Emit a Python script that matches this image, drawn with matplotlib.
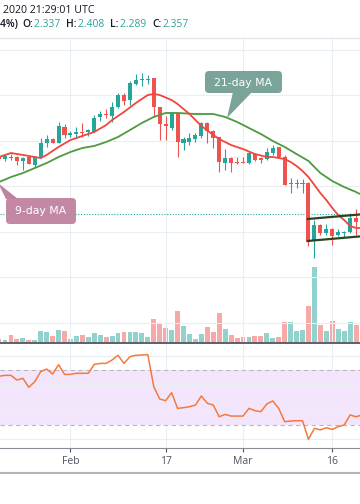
import matplotlib
matplotlib.use("Agg")
import matplotlib.pyplot as plt
from matplotlib.patches import FancyBboxPatch, Polygon

# --- data: daily candles, day 0 = 21 Jan 2020 ---
days = list(range(-1, 61))
opens = [2.855, 2.837, 2.855, 2.855, 2.820, 2.855, 2.785, 2.855, 2.978, 3.013,
         2.978, 3.119, 3.048, 3.057, 3.075, 3.075, 3.075, 3.207, 3.233, 3.215,
         3.295, 3.400, 3.356, 3.497, 3.532, 3.532, 3.549, 3.295, 3.145, 3.110,
         3.242, 2.978, 2.987, 3.013, 3.040, 3.154, 3.084, 3.031, 2.802, 2.846,
         2.811, 2.811, 2.802, 2.881, 2.846, 2.837, 2.890, 2.943, 2.855, 2.618,
         2.618, 2.618, 2.626, 2.117, 2.257, 2.187, 2.222, 2.169, 2.187, 2.196,
         2.319, 2.337]
highs = [2.873, 2.881, 2.881, 2.864, 2.855, 2.858, 2.864, 3.022, 3.048, 3.022,
         3.163, 3.145, 3.084, 3.119, 3.154, 3.101, 3.224, 3.259, 3.277, 3.338,
         3.418, 3.418, 3.523, 3.585, 3.593, 3.576, 3.552, 3.298, 3.215, 3.251,
         3.245, 3.031, 3.066, 3.066, 3.163, 3.163, 3.092, 3.034, 2.925, 2.855,
         2.855, 2.855, 2.899, 2.890, 2.855, 2.934, 2.960, 2.946, 2.873, 2.670,
         2.662, 2.662, 2.635, 2.301, 2.266, 2.266, 2.231, 2.222, 2.204, 2.363,
         2.398, 2.408]
lows = [2.820, 2.820, 2.829, 2.785, 2.741, 2.790, 2.767, 2.846, 2.943, 2.978,
        2.975, 3.022, 3.031, 3.022, 3.031, 3.040, 3.072, 3.171, 3.198, 3.163,
        3.286, 3.312, 3.312, 3.488, 3.479, 3.497, 3.207, 3.004, 3.004, 3.092,
        2.855, 2.916, 2.960, 2.987, 3.022, 2.978, 2.934, 2.723, 2.741, 2.723,
        2.793, 2.799, 2.793, 2.820, 2.802, 2.829, 2.873, 2.846, 2.605, 2.538,
        2.583, 2.538, 2.073, 1.967, 2.169, 2.169, 2.081, 2.158, 2.152, 2.187,
        2.169, 2.289]
closes = [2.837, 2.864, 2.846, 2.820, 2.846, 2.793, 2.855, 2.978, 3.013, 2.978,
          3.128, 3.048, 3.066, 3.075, 3.066, 3.092, 3.198, 3.233, 3.224, 3.295,
          3.400, 3.347, 3.505, 3.532, 3.541, 3.541, 3.295, 3.145, 3.128, 3.242,
          2.987, 3.013, 3.022, 3.048, 3.154, 3.084, 3.022, 2.811, 2.846, 2.802,
          2.802, 2.802, 2.890, 2.829, 2.829, 2.899, 2.934, 2.855, 2.609, 2.626,
          2.626, 2.626, 2.108, 2.257, 2.187, 2.222, 2.160, 2.196, 2.196, 2.319,
          2.284, 2.357]
volumes = [4, 3, 8, 4, 5, 3, 3, 12, 11, 7, 13, 12, 4, 7, 8, 6, 10, 8, 6, 7,
           10, 11, 11, 11, 10, 6, 24, 19, 15, 13, 32, 17, 9, 4, 9, 16, 11, 30, 14, 8,
           5, 6, 6, 7, 7, 10, 5, 6, 21, 21, 12, 13, 37, 76, 18, 12, 22, 14, 12, 21,
           18, 10]
rsi = [65.5, 66.1, 66.1, 62.7, 64.0, 57.4, 61.5, 68.8, 70.7, 67.1, 73.9, 66.8,
       66.8, 67.6, 67.6, 67.6, 74.1, 74.8, 74.8, 77.3, 80.7, 74.8, 79.7, 80.7,
       80.9, 81.2, 57.9, 48.9, 47.7, 53.5, 42.1, 42.6, 43.3, 44.5, 51.1, 45.8,
       44.5, 36.0, 37.7, 36.5, 36.5, 36.5, 42.1, 40.4, 39.7, 45.3, 47.5, 42.1,
       32.4, 32.9, 33.1, 33.1, 19.6, 27.6, 26.4, 28.0, 26.8, 28.8, 30.0, 37.3,
       36.0, 37.3]

ma9_days = [-1, 1, 3, 5, 6, 7, 9, 11, 13, 15, 17, 18, 20, 22, 24, 25, 26, 28, 29,
            31, 33, 35, 36, 38, 40, 42, 44, 45, 46, 47, 48, 49, 50, 51, 52, 53,
            54, 55, 56, 57, 58, 59, 60]
ma9_vals = [2.855, 2.890, 2.873, 2.855, 2.846, 2.873, 2.943, 3.004, 3.040, 3.075,
            3.136, 3.180, 3.251, 3.330, 3.400, 3.409, 3.400, 3.356, 3.321, 3.233,
            3.128, 3.048, 3.013, 2.960, 2.925, 2.881, 2.855, 2.855, 2.846, 2.837,
            2.811, 2.776, 2.732, 2.679, 2.609, 2.538, 2.477, 2.407, 2.345, 2.301,
            2.248, 2.231, 2.231]
ma21_days = [-1, 1, 3, 5, 7, 9, 11, 13, 15, 17, 19, 21, 23, 25, 27, 29, 32, 35,
             37, 39, 41, 43, 45, 47, 49, 51, 53, 55, 57, 59, 60]
ma21_vals = [2.635, 2.679, 2.714, 2.758, 2.802, 2.855, 2.899, 2.934, 2.952, 2.987,
             3.031, 3.092, 3.154, 3.207, 3.242, 3.242, 3.233, 3.233, 3.207, 3.163,
             3.110, 3.057, 2.996, 2.943, 2.881, 2.820, 2.714, 2.644, 2.591, 2.547,
             2.521]

channel_days = [50.9, 61.0]
channel_upper = [2.310, 2.356]
channel_lower = [2.117, 2.163]

last_price = 2.357
tick_days = [11, 27, 40, 55]
tick_labels = ["Feb", "17", "Mar", "16"]

GREEN = "#26a69a"
RED = "#ef5350"
GRID = "#e9eef3"

fig = plt.figure(figsize=(3.6, 5.04), dpi=100)
W, H = 360.0, 504.0


def pane(top, bottom):
    return fig.add_axes([0, 1 - bottom / H, 1, (bottom - top) / H])


ax = pane(38, 343)
axv = pane(38, 343)
axr = pane(343, 448)
xlim = (-0.84, 59.66)

# volume (behind candles)
axv.set_zorder(0)
ax.set_zorder(1)
ax.patch.set_visible(False)
vcol = ["#92d2cc" if c >= o else "#f7a9a7" for o, c in zip(opens, closes)]
axv.bar(days, volumes, width=0.82, color=vcol, linewidth=0)
axv.set_ylim(0, 305)
axv.set_xlim(*xlim)
axv.axis("off")

# price pane
for y in [1.4, 1.8, 2.2, 2.6, 3.0, 3.4, 3.8]:
    ax.axhline(y, color=GRID, lw=0.8, zorder=0)
for d in tick_days:
    ax.axvline(d, color=GRID, lw=0.8, zorder=0)
    axr.axvline(d, color=GRID, lw=0.8, zorder=0)

ccol = [GREEN if c >= o else RED for o, c in zip(opens, closes)]
ax.vlines(days, lows, highs, colors=ccol, lw=0.8, zorder=3)
bottoms = [min(o, c) for o, c in zip(opens, closes)]
heights = [max(abs(c - o), 0.009) for o, c in zip(opens, closes)]
ax.bar(days, heights, bottom=bottoms, width=0.68, color=ccol, linewidth=0, zorder=4)

ax.plot(ma21_days, ma21_vals, color="#4e9a3e", lw=1.3, zorder=5)
ax.plot(ma9_days, ma9_vals, color="#f0463c", lw=1.3, zorder=6)
ax.plot(channel_days, channel_upper, color="#2a4520", lw=1.6, zorder=7)
ax.plot(channel_days, channel_lower, color="#2a4520", lw=1.6, zorder=7)
ax.axhline(last_price, color=GREEN, lw=0.8, ls=(0, (1, 1.5)), zorder=2)

ax.set_xlim(*xlim)
ax.set_ylim(1.2199, 3.9011)
ax.axis("off")

# RSI pane
axr.axhspan(30, 70, color="#f3e6fc", lw=0, zorder=0)
for y in [20, 40, 60, 80]:
    axr.axhline(y, color=GRID, lw=0.8, zorder=1)
for y in [30, 70]:
    axr.axhline(y, color="#b8b8c0", lw=0.8, ls=(0, (4, 3)), zorder=1)
axr.plot(days, rsi, color="#f47a3c", lw=1.1, zorder=3)
axr.set_xlim(*xlim)
axr.set_ylim(13.27, 89.64)
axr.set_yticks([])
axr.set_xticks(tick_days)
axr.set_xticklabels(tick_labels, fontsize=7.5, color="#50535e", family="Open Sans")
axr.tick_params(axis="x", length=3, width=0.8, color="#50535e", pad=2.5)
for s in ["top", "left", "right"]:
    axr.spines[s].set_visible(False)
axr.spines["bottom"].set_color("#8a8d96")
axr.spines["bottom"].set_linewidth(0.8)

# overlay in pixel space for separators, header and callouts
ov = fig.add_axes([0, 0, 1, 1])
ov.set_xlim(0, W)
ov.set_ylim(H, 0)
ov.axis("off")
ov.set_zorder(10)
ov.patch.set_visible(False)
ov.plot([0, W], [38, 38], color="#e0e3eb", lw=0.8)
ov.plot([0, W], [343, 343], color="#5d606b", lw=1.4)
ov.plot([0, W], [473, 473], color="#b2b5be", lw=1.5)

ov.text(3, 10.5, "2020 21:29:01 UTC", fontsize=7.6, color="#131722",
        family="Open Sans", va="center", ha="left")

# header line 2, pieces placed one after another
hdr = [("4%) ", "#131722"), ("O:", "#131722"), ("2.337  ", GREEN),
       ("H:", "#131722"), ("2.408  ", GREEN), ("L:", "#131722"),
       ("2.289  ", GREEN), ("C:", "#131722"), ("2.357", GREEN)]
renderer = fig.canvas.get_renderer()
x = 0.5
for s, c in hdr:
    t = ov.text(x, 24.5, s, fontsize=7.4, color=c, family="Open Sans",
                fontweight="semibold" if c != GREEN else "normal",
                va="center", ha="left")
    bb = t.get_window_extent(renderer)
    x += bb.width + 1

# 21-day MA callout
ov.add_patch(FancyBboxPatch((205, 71), 77, 22, boxstyle="round,pad=0,rounding_size=4",
                            fc="#7aa39a", ec="none"))
ov.add_patch(Polygon([(233, 92), (252, 92), (227, 118)], closed=True, fc="#7aa39a", ec="none"))
ov.text(243.5, 82.5, "21-day MA", color="white", fontsize=7.8, ha="center", va="center")

# 9-day MA callout
ov.add_patch(FancyBboxPatch((6, 198), 70, 26, boxstyle="round,pad=0,rounding_size=4",
                            fc="#c0829f", ec="none", alpha=0.95))
ov.add_patch(Polygon([(-2, 183), (6, 199), (18, 199)], closed=True, fc="#c0829f", ec="none"))
ov.text(41, 211.5, "9-day MA", color="white", fontsize=7.8, ha="center", va="center")

fig.savefig("out.png", dpi=100, facecolor="white")
